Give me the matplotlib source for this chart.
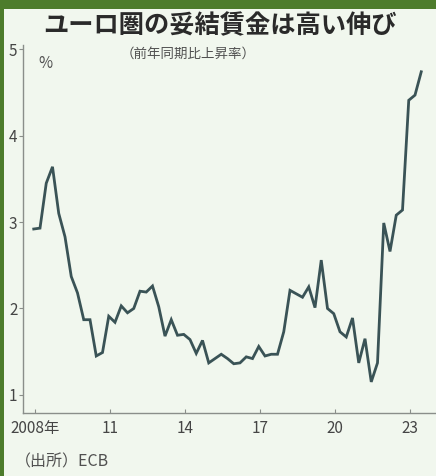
import matplotlib
matplotlib.use("Agg")
import matplotlib.pyplot as plt
from matplotlib.patches import Rectangle
import numpy as np

plt.rcParams['font.family'] = ['Noto Sans CJK JP', 'DejaVu Sans']

# Quarterly negotiated wage growth, euro area (% y/y), starting 2008 Q1
start_year = 2008
values = [2.92, 2.93, 3.45, 3.64, 3.10, 2.83, 2.37, 2.18, 1.87, 1.87,
          1.45, 1.49, 1.91, 1.84, 2.03, 1.95, 2.00, 2.20, 2.19, 2.26,
          2.02, 1.68, 1.87, 1.69, 1.70, 1.64, 1.48, 1.63, 1.37, 1.42,
          1.47, 1.42, 1.36, 1.37, 1.44, 1.42, 1.56, 1.45, 1.47, 1.47,
          1.73, 2.21, 2.17, 2.13, 2.25, 2.01, 2.56, 2.00, 1.94, 1.73,
          1.67, 1.89, 1.37, 1.65, 1.15, 1.37, 2.99, 2.66, 3.08, 3.14,
          4.41, 4.47, 4.74]
xtick_years = [2008, 2011, 2014, 2017, 2020, 2023]
xtick_labels = ['2008年', '11', '14', '17', '20', '23']
ytick_values = [1, 2, 3, 4, 5]

title = 'ユーロ圏の妥結賃金は高い伸び'
subtitle = '（前年同期比上昇率）'
unit = '%'
source = '（出所）ECB'

bg = '#f1f7ee'
green = '#4d7c2c'
line_color = '#3a5356'

fig = plt.figure(figsize=(4.36, 4.76), dpi=100, facecolor=bg)

# green frame (top and left)
fig.patches.append(Rectangle((0, 1 - 9 / 476), 1, 9 / 476, transform=fig.transFigure,
                             facecolor=green, edgecolor='none', zorder=0))
fig.patches.append(Rectangle((0, 0), 4 / 436, 1, transform=fig.transFigure,
                             facecolor=green, edgecolor='none', zorder=0))

ax = fig.add_axes([23 / 436, 63 / 476, 1 - 23 / 436, (413 - 45) / 476])
ax.set_facecolor(bg)

x = start_year - 0.05 + 0.25 * np.arange(len(values))
ax.plot(x, values, color=line_color, lw=2.0, solid_joinstyle='miter')

ax.set_xlim(2007.52, 2024.04)
ax.set_ylim(0.79, 5.05)

for s in ['top', 'right']:
    ax.spines[s].set_visible(False)
for s in ['left', 'bottom']:
    ax.spines[s].set_color('#8a8e8a')
    ax.spines[s].set_linewidth(1.0)

ax.set_xticks(xtick_years)
ax.set_xticklabels(xtick_labels)
ax.set_yticks(ytick_values)
ax.set_yticklabels([str(v) for v in ytick_values])
ax.tick_params(axis='x', direction='in', length=3, width=0.8, color='#8a8e8a',
               labelsize=11, labelcolor='#454545', pad=5)
ax.tick_params(axis='y', direction='out', length=3, width=0.8, color='#8a8e8a',
               labelsize=11, labelcolor='#454545', pad=1)

fig.text(220 / 436, 1 - 25.5 / 476, title, ha='center', va='center',
         fontsize=18.2, fontweight='bold', color='#2a2a2a')
fig.text(188 / 436, 1 - 54 / 476, subtitle, ha='center', va='center',
         fontsize=9.7, color='#505050')
fig.text(38 / 436, 1 - 64 / 476, unit, ha='left', va='center',
         fontsize=11, color='#505050')
fig.text(15 / 436, 1 - 462 / 476, source, ha='left', va='center',
         fontsize=11.5, color='#505050')

fig.savefig('out.png', dpi=100, facecolor=bg)
